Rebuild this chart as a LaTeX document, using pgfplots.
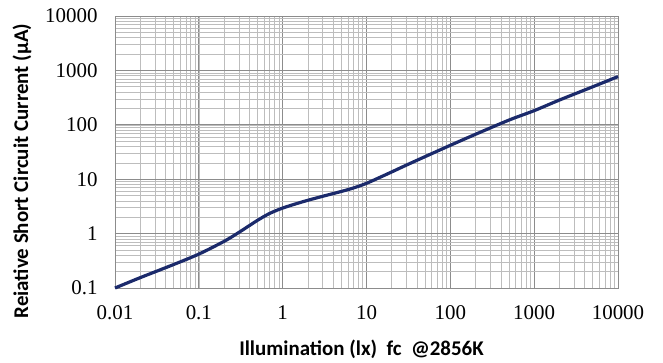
\documentclass[border=0pt]{standalone}
\usepackage{fontspec}
\setmainfont{Carlito}
\newfontfamily\tickfont{Liberation Serif}
\usepackage{pgfplots}
\pgfplotsset{compat=1.18}
\definecolor{curve}{HTML}{1B2A6B}
\definecolor{majgrid}{HTML}{8C8C8C}
\definecolor{mingrid}{HTML}{BDBDBD}
\begin{document}
\begin{tikzpicture}
\begin{axis}[
  at={(0,0)}, anchor=south west,
  scale only axis,
  width=503bp, height=272bp,
  xmode=log, ymode=log,
  xmin=0.01, xmax=10000, ymin=0.1, ymax=10000,
  xtick={0.01,0.1,1,10,100,1000,10000},
  xticklabels={0.01,0.1,1,10,100,1000,10000},
  ytick={0.1,1,10,100,1000,10000},
  yticklabels={0.1,1,10,100,1000,10000},
  /pgf/number format/assume math mode=true,
  ticklabel style={font=\fontsize{21}{22}\selectfont\tickfont},
  xticklabel style={yshift=-14bp},
  yticklabel style={xshift=-14bp},
  major tick length=0pt, minor tick length=0pt,
  grid=both,
  major grid style={majgrid, line width=0.9pt},
  minor grid style={mingrid, line width=0.6pt},
  axis line style={majgrid, line width=0.8pt},
  xlabel={\textbf{Illumination (lx)\ \ fc\ \ @2856K}},
  ylabel={\textbf{Reiative Short Circuit Current (μA)}},
  label style={font=\fontsize{21}{22}\selectfont},
  xlabel style={at={(axis description cs:0.49,-0.224)}, anchor=center},
  ylabel style={at={(axis description cs:-0.185,0.43)}, anchor=center},
  clip=false,
]
\addplot[curve, line width=3.2pt, smooth, tension=0.5] coordinates {
(0.01,0.1) (0.02,0.155) (0.05,0.27) (0.1,0.42) (0.2,0.72) (0.3,1.05)
(0.5,1.75) (0.7,2.35) (1,2.95) (1.5,3.6) (2,4.1) (3,4.85) (5,5.95) (7,6.9)
(10,8.4) (15,11.1) (20,13.6) (30,18.2) (50,26) (100,42) (200,67) (500,122)
(1000,182) (2000,285) (5000,500) (10000,770)
};
\end{axis}
\pgfresetboundingbox
\useasboundingbox (-115bp,-75bp) rectangle (548bp,288bp);
\end{tikzpicture}
\end{document}
